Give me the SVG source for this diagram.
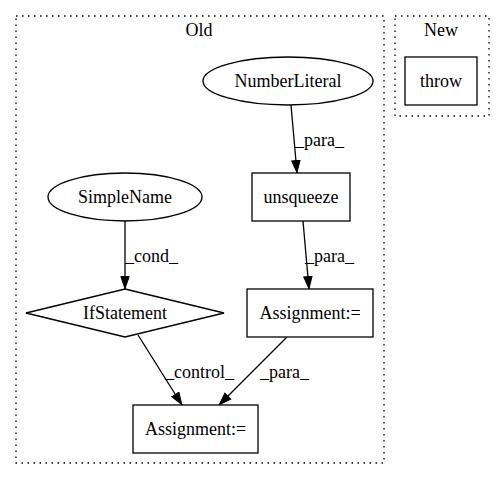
<svg xmlns="http://www.w3.org/2000/svg" width="504" height="480" viewBox="0 0 504 480">
<style>
text{font-family:"Liberation Serif","Times New Roman",serif;font-size:18px;fill:#000}
.c{text-anchor:middle}
.n{fill:#fff;stroke:#000;stroke-width:1.3}
.cl{fill:none;stroke:#000;stroke-width:1.3;stroke-dasharray:1.5,4.5}
.e{fill:none;stroke:#000;stroke-width:1.3}
</style>
<defs>
<marker id="a" viewBox="0 0 13 10" refX="13" refY="5" markerWidth="13" markerHeight="10" markerUnits="userSpaceOnUse" orient="auto">
<path d="M0.5,0.8 L12.5,5 L0.5,9.2 Z" fill="#000" stroke="#000"/>
</marker>
</defs>
<rect width="504" height="480" fill="#fff"/>
<g id="cluster_old">
<rect class="cl" x="16" y="16" width="368" height="447"/>
<text class="c" x="199" y="36">Old</text>
</g>
<g id="cluster_new">
<rect class="cl" x="395" y="16" width="94" height="100"/>
<text class="c" x="441" y="36">New</text>
</g>
<g id="edges">
<path class="e" d="M291,105 L297,173" marker-end="url(#a)"/>
<text x="295" y="146">_para_</text>
<path class="e" d="M303,221 L309,289" marker-end="url(#a)"/>
<text x="305" y="262">_para_</text>
<path class="e" d="M125,221 L125,289" marker-end="url(#a)"/>
<text x="125" y="262">_cond_</text>
<path class="e" d="M138,335 L182,405" marker-end="url(#a)"/>
<text x="165" y="378">_control_</text>
<path class="e" d="M287,337 L219,405" marker-end="url(#a)"/>
<text x="260" y="378">_para_</text>
</g>
<g id="NumberLiteral">
<ellipse class="n" cx="288" cy="81" rx="85" ry="24"/>
<text class="c" x="288" y="87">NumberLiteral</text>
</g>
<g id="throw">
<rect class="n" x="405" y="57" width="72" height="48"/>
<text class="c" x="441" y="87">throw</text>
</g>
<g id="SimpleName">
<ellipse class="n" cx="125" cy="197" rx="77" ry="24"/>
<text class="c" x="125" y="203">SimpleName</text>
</g>
<g id="unsqueeze">
<rect class="n" x="252" y="173" width="98" height="48"/>
<text class="c" x="301" y="203">unsqueeze</text>
</g>
<g id="IfStatement">
<polygon class="n" points="125,289 224,313 125,337 26,313"/>
<text class="c" x="125" y="319">IfStatement</text>
</g>
<g id="Assignment1">
<rect class="n" x="247" y="289" width="126" height="48"/>
<text class="c" x="310" y="319">Assignment:=</text>
</g>
<g id="Assignment2">
<rect class="n" x="133" y="405" width="125" height="48"/>
<text class="c" x="195.5" y="435">Assignment:=</text>
</g>
</svg>
